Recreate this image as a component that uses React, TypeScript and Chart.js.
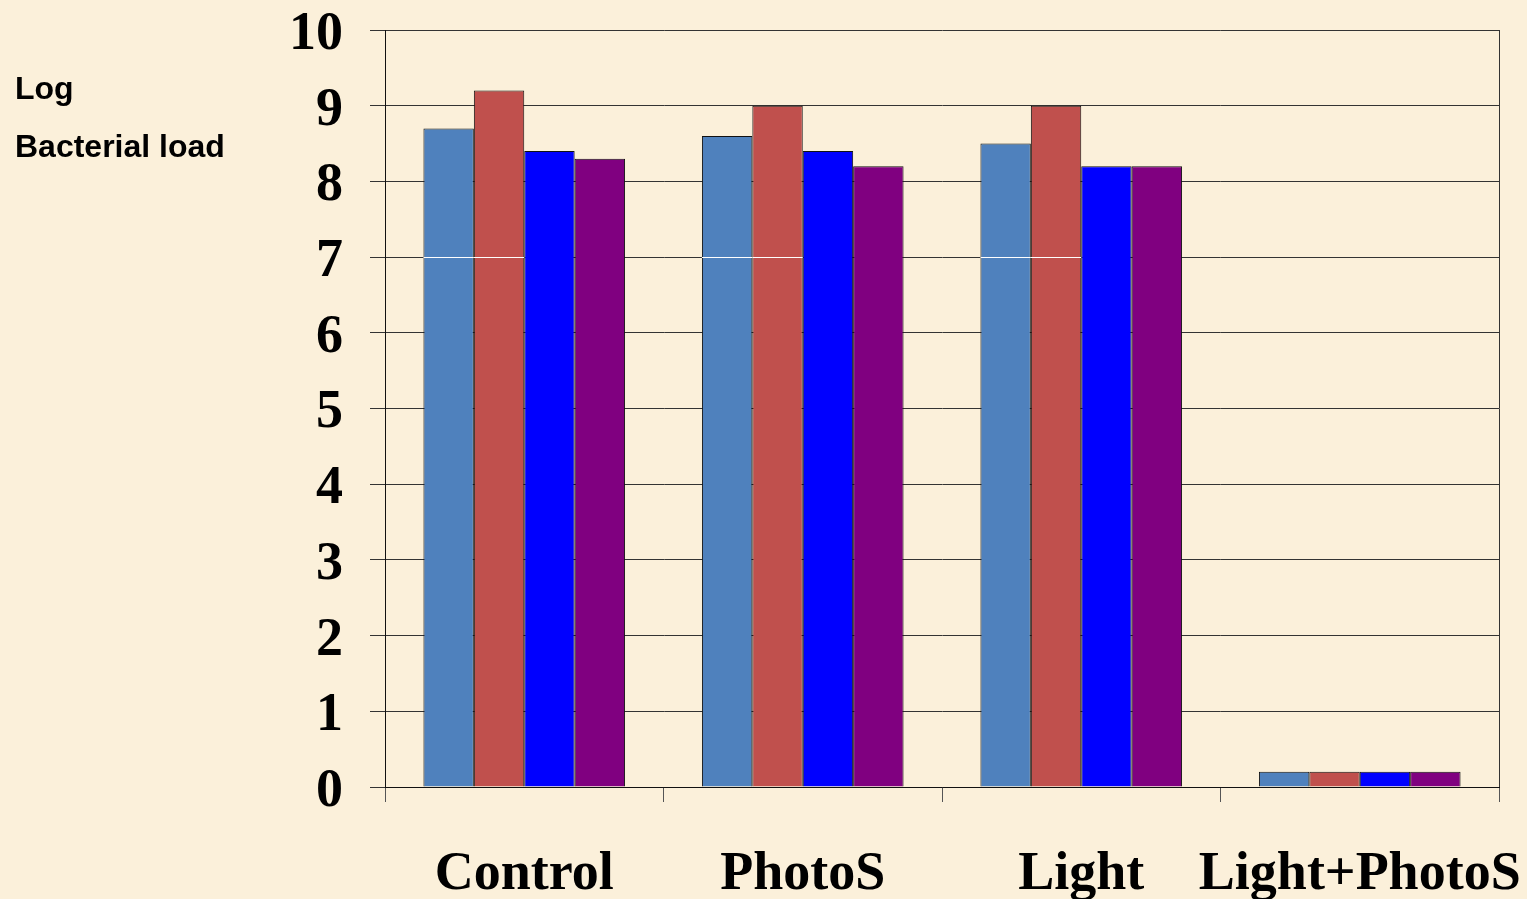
import React, { useEffect, useRef } from "react";
import { Chart, registerables } from "chart.js";

Chart.register(...registerables);

const categories = ["Control", "PhotoS", "Light", "Light+PhotoS"];
const series1 = [8.7, 8.6, 8.5, 0.2];
const series2 = [9.2, 9.0, 9.0, 0.2];
const series3 = [8.4, 8.4, 8.2, 0.2];
const series4 = [8.3, 8.2, 8.2, 0.2];
const seriesColors = ["#4F81BD", "#C0504D", "#0000FF", "#800080"];
const yTitleLines = ["Log", "Bacterial load"];
const whiteLineValue = 7;

const BG = "#FBF0DA";

const extrasPlugin = {
  id: "extras",
  beforeDraw(chart: any) {
    const { ctx, width, height } = chart;
    ctx.save();
    ctx.fillStyle = BG;
    ctx.fillRect(0, 0, width, height);
    ctx.restore();
  },
  afterDatasetsDraw(chart: any) {
    const { ctx, chartArea, scales } = chart;
    const y = scales.y;
    ctx.save();
    const yy = Math.round(y.getPixelForValue(whiteLineValue)) + 0.5;
    ctx.strokeStyle = "#FFFFFF";
    ctx.lineWidth = 1;
    [0, 1].forEach((di) => {
      const meta = chart.getDatasetMeta(di);
      meta.data.forEach((bar: any, j: number) => {
        const v = chart.data.datasets[di].data[j];
        if (v > whiteLineValue) {
          ctx.beginPath();
          ctx.moveTo(bar.x - bar.width / 2, yy);
          ctx.lineTo(bar.x + bar.width / 2, yy);
          ctx.stroke();
        }
      });
    });
    ctx.strokeStyle = "#333";
    ctx.beginPath();
    const rx = Math.round(chartArea.right) + 0.5;
    ctx.moveTo(rx, chartArea.top);
    ctx.lineTo(rx, chartArea.bottom);
    ctx.stroke();
    ctx.fillStyle = "#000";
    ctx.font = "bold 32px 'Liberation Sans', Arial, sans-serif";
    ctx.textBaseline = "alphabetic";
    ctx.textAlign = "left";
    ctx.fillText(yTitleLines[0], 15, 99);
    ctx.fillText(yTitleLines[1], 15, 157);
    ctx.restore();
  },
};

function zeroPad(scale: any) {
  scale.paddingTop = 0;
  scale.paddingBottom = 0;
  scale.paddingLeft = 0;
  scale.paddingRight = 0;
}

export default function App() {
  const canvasRef = useRef<HTMLCanvasElement | null>(null);

  useEffect(() => {
    document.body.style.margin = "0";
    const canvas = canvasRef.current;
    if (!canvas) return;
    const chart = new Chart(canvas, {
      type: "bar",
      data: {
        labels: categories,
        datasets: [series1, series2, series3, series4].map((d, i) => ({
          label: "S" + (i + 1),
          data: d,
          backgroundColor: seriesColors[i],
          borderColor: "#111",
          borderWidth: 1,
          categoryPercentage: 0.724,
          barPercentage: 1.0,
        })),
      },
      options: {
        animation: false,
        responsive: false,
        maintainAspectRatio: false,
        devicePixelRatio: 1,
        layout: { padding: { left: 0, top: 30, right: 28, bottom: 0 } },
        plugins: {
          legend: { display: false },
          tooltip: { enabled: false },
        },
        scales: {
          x: {
            afterFit(scale: any) {
              scale.height = 112;
              zeroPad(scale);
            },
            grid: {
              offset: true,
              drawOnChartArea: false,
              drawTicks: true,
              tickLength: 15,
              color: "#555",
            },
            border: { color: "#111", width: 1 },
            ticks: {
              color: "#000",
              maxRotation: 0,
              minRotation: 0,
              autoSkip: false,
              padding: 41,
              font: { family: "'Liberation Serif', 'Times New Roman', serif", size: 54, weight: "bold", lineHeight: 1.2 },
            },
          },
          y: {
            min: 0,
            max: 10,
            afterFit(scale: any) {
              scale.width = 385;
              zeroPad(scale);
            },
            grid: {
              color: "#333",
              lineWidth: 1,
              drawTicks: true,
              tickLength: 15,
            },
            border: { color: "#111", width: 1 },
            ticks: {
              stepSize: 1,
              color: "#000",
              padding: 27,
              labelOffset: 5,
              font: { family: "'Liberation Serif', 'Times New Roman', serif", size: 54, weight: "bold", lineHeight: 1.0 },
            },
          },
        },
      },
      plugins: [extrasPlugin],
    });
    return () => chart.destroy();
  }, []);

  return (
    <div style={{ width: 1527, height: 899, background: BG }}>
      <canvas ref={canvasRef} width={1527} height={899} style={{ display: "block" }} />
    </div>
  );
}
